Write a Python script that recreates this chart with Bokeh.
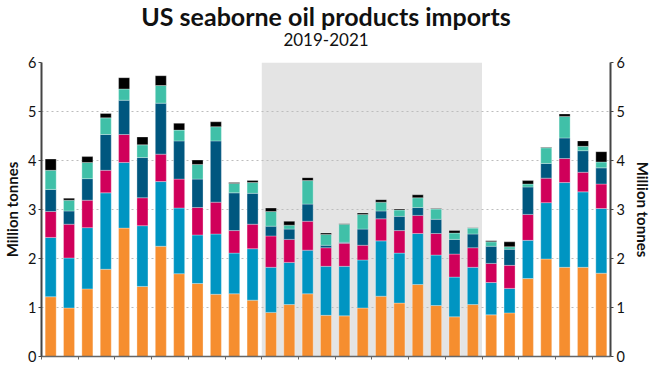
from bokeh.plotting import figure
from bokeh.models import (ColumnDataSource, LinearAxis, Title, BoxAnnotation,
                          FixedTicker, Range1d, CustomJSTickFormatter)
from bokeh.embed import file_html
from bokeh.resources import INLINE

months = [f"{m} {y}" for y in (2019, 2020, 2021)
          for m in ("Jan", "Feb", "Mar", "Apr", "May", "Jun",
                    "Jul", "Aug", "Sep", "Oct", "Nov", "Dec")][:31]

# segment values, million tonnes (bottom to top)
seg_orange = [1.22, 0.99, 1.38, 1.78, 2.62, 1.43, 2.25, 1.69, 1.49, 1.27, 1.28, 1.15,
              0.90, 1.06, 1.28, 0.84, 0.83, 0.99, 1.23, 1.09, 1.47, 1.04, 0.81, 1.06,
              0.85, 0.89, 1.59, 1.99, 1.82, 1.82, 1.70]
seg_blue = [1.21, 1.02, 1.25, 1.56, 1.34, 1.24, 1.32, 1.34, 0.99, 1.23, 0.83, 1.05,
            0.92, 0.86, 0.89, 1.00, 1.01, 0.98, 1.13, 1.02, 1.04, 1.03, 0.81, 0.76,
            0.66, 0.50, 0.78, 1.15, 1.73, 1.54, 1.32]
seg_crimson = [0.53, 0.69, 0.56, 0.46, 0.57, 0.57, 0.56, 0.59, 0.56, 0.65, 0.46, 0.50,
               0.64, 0.47, 0.59, 0.38, 0.47, 0.30, 0.45, 0.46, 0.37, 0.44, 0.47, 0.40,
               0.39, 0.47, 0.53, 0.50, 0.49, 0.40, 0.50]
seg_navy = [0.45, 0.27, 0.44, 0.73, 0.70, 0.82, 1.04, 0.78, 0.58, 1.25, 0.77, 0.63,
            0.20, 0.21, 0.35, 0.05, 0.02, 0.33, 0.16, 0.29, 0.16, 0.29, 0.30, 0.28,
            0.35, 0.33, 0.56, 0.30, 0.42, 0.44, 0.33]
seg_teal = [0.39, 0.22, 0.33, 0.34, 0.23, 0.26, 0.36, 0.22, 0.30, 0.29, 0.19, 0.22,
            0.30, 0.08, 0.48, 0.22, 0.37, 0.30, 0.18, 0.13, 0.20, 0.21, 0.13, 0.12,
            0.09, 0.05, 0.06, 0.32, 0.44, 0.09, 0.12]
seg_black = [0.23, 0.04, 0.12, 0.09, 0.23, 0.16, 0.20, 0.14, 0.09, 0.10, 0.02, 0.04,
             0.07, 0.08, 0.06, 0.03, 0.01, 0.03, 0.05, 0.02, 0.06, 0.01, 0.05, 0.01,
             0.02, 0.10, 0.07, 0.01, 0.05, 0.11, 0.21]

y_ticks = [0, 1, 2, 3, 4, 5, 6]
shade_start, shade_end = "Jan 2020", "Dec 2020"

series = ["orange", "blue", "crimson", "navy", "teal", "black"]
colors = ["#f68e2f", "#0095c2", "#d0005a", "#00577f", "#40c0a8", "#000000"]

x = list(range(len(months)))
data = {"x": x, "month": months, "orange": seg_orange, "blue": seg_blue,
        "crimson": seg_crimson, "navy": seg_navy, "teal": seg_teal, "black": seg_black}
src = ColumnDataSource(data)

p = figure(width=654, height=364, output_backend="svg", toolbar_location=None,
           title=None, x_range=Range1d(-0.5, len(months) - 0.5), y_range=Range1d(0, 6),
           min_border_left=31, min_border_right=34, min_border_top=0, min_border_bottom=8)
p.outline_line_color = None

i0 = months.index(shade_start) - 0.5
i1 = months.index(shade_end) + 0.5
p.add_layout(BoxAnnotation(left=i0, right=i1, fill_color="#e4e4e4", fill_alpha=1,
                           line_color=None, level="image"))

p.vbar_stack(series, x="x", width=0.6, color=colors, source=src,
             line_color="white", line_width=0.6, line_alpha=0.5)

p.xgrid.visible = False
p.ygrid.ticker = FixedTicker(ticks=y_ticks)
p.ygrid.grid_line_color = "#bdbdbd"
p.ygrid.grid_line_dash = "2 3"
p.ygrid.grid_line_width = 1.2

# x axis: ticks every two months, labels cropped away in the reference
p.xaxis.ticker = FixedTicker(ticks=[k - 0.5 for k in range(0, len(months) + 1, 2)])
p.xaxis.formatter = CustomJSTickFormatter(code="return ''")
p.xaxis.major_label_standoff = 0
p.xaxis.major_label_text_font_size = "1px"
p.xaxis.axis_label_standoff = 0
p.xaxis.axis_line_color = "#666666"
p.xaxis.axis_line_width = 1.5
p.xaxis.major_tick_line_color = "#666666"
p.xaxis.major_tick_out = 3
p.xaxis.major_tick_in = 0
p.xaxis.minor_tick_line_color = None

p.add_layout(LinearAxis(), "right")
for ax in p.yaxis:
    ax.ticker = FixedTicker(ticks=y_ticks)
    ax.axis_label = "Million tonnes"
    ax.axis_label_text_font = "Lato"
    ax.axis_label_text_font_style = "bold"
    ax.axis_label_text_font_size = "15px"
    ax.axis_label_text_color = "#111111"
    ax.axis_label_standoff = 4
    ax.major_label_text_font = "Lato"
    ax.major_label_text_font_size = "14.5px"
    ax.major_label_text_color = "#111111"
    ax.major_label_standoff = 2
    ax.axis_line_color = "#444444"
    ax.axis_line_width = 2
    ax.major_tick_line_color = "#444444"
    ax.major_tick_out = 3
    ax.major_tick_in = 0
    ax.minor_tick_line_color = None
p.yaxis[1].axis_label_standoff = 6
p.yaxis[1].major_label_standoff = 3

# spacer, subtitle, main title (stacked outward from the plot frame)
p.add_layout(Title(text=" ", text_font_size="1px", standoff=11), "above")
p.add_layout(Title(text="2019-2021", align="center", text_font="Lato",
                   text_font_size="17px", text_font_style="normal",
                   text_color="#111111", standoff=5), "above")
p.add_layout(Title(text="US seaborne oil products imports", align="center",
                   text_font="Lato", text_font_size="25px", text_font_style="bold",
                   text_color="#111111", standoff=-4), "above")

open("out.html", "w").write(file_html(p, INLINE))
